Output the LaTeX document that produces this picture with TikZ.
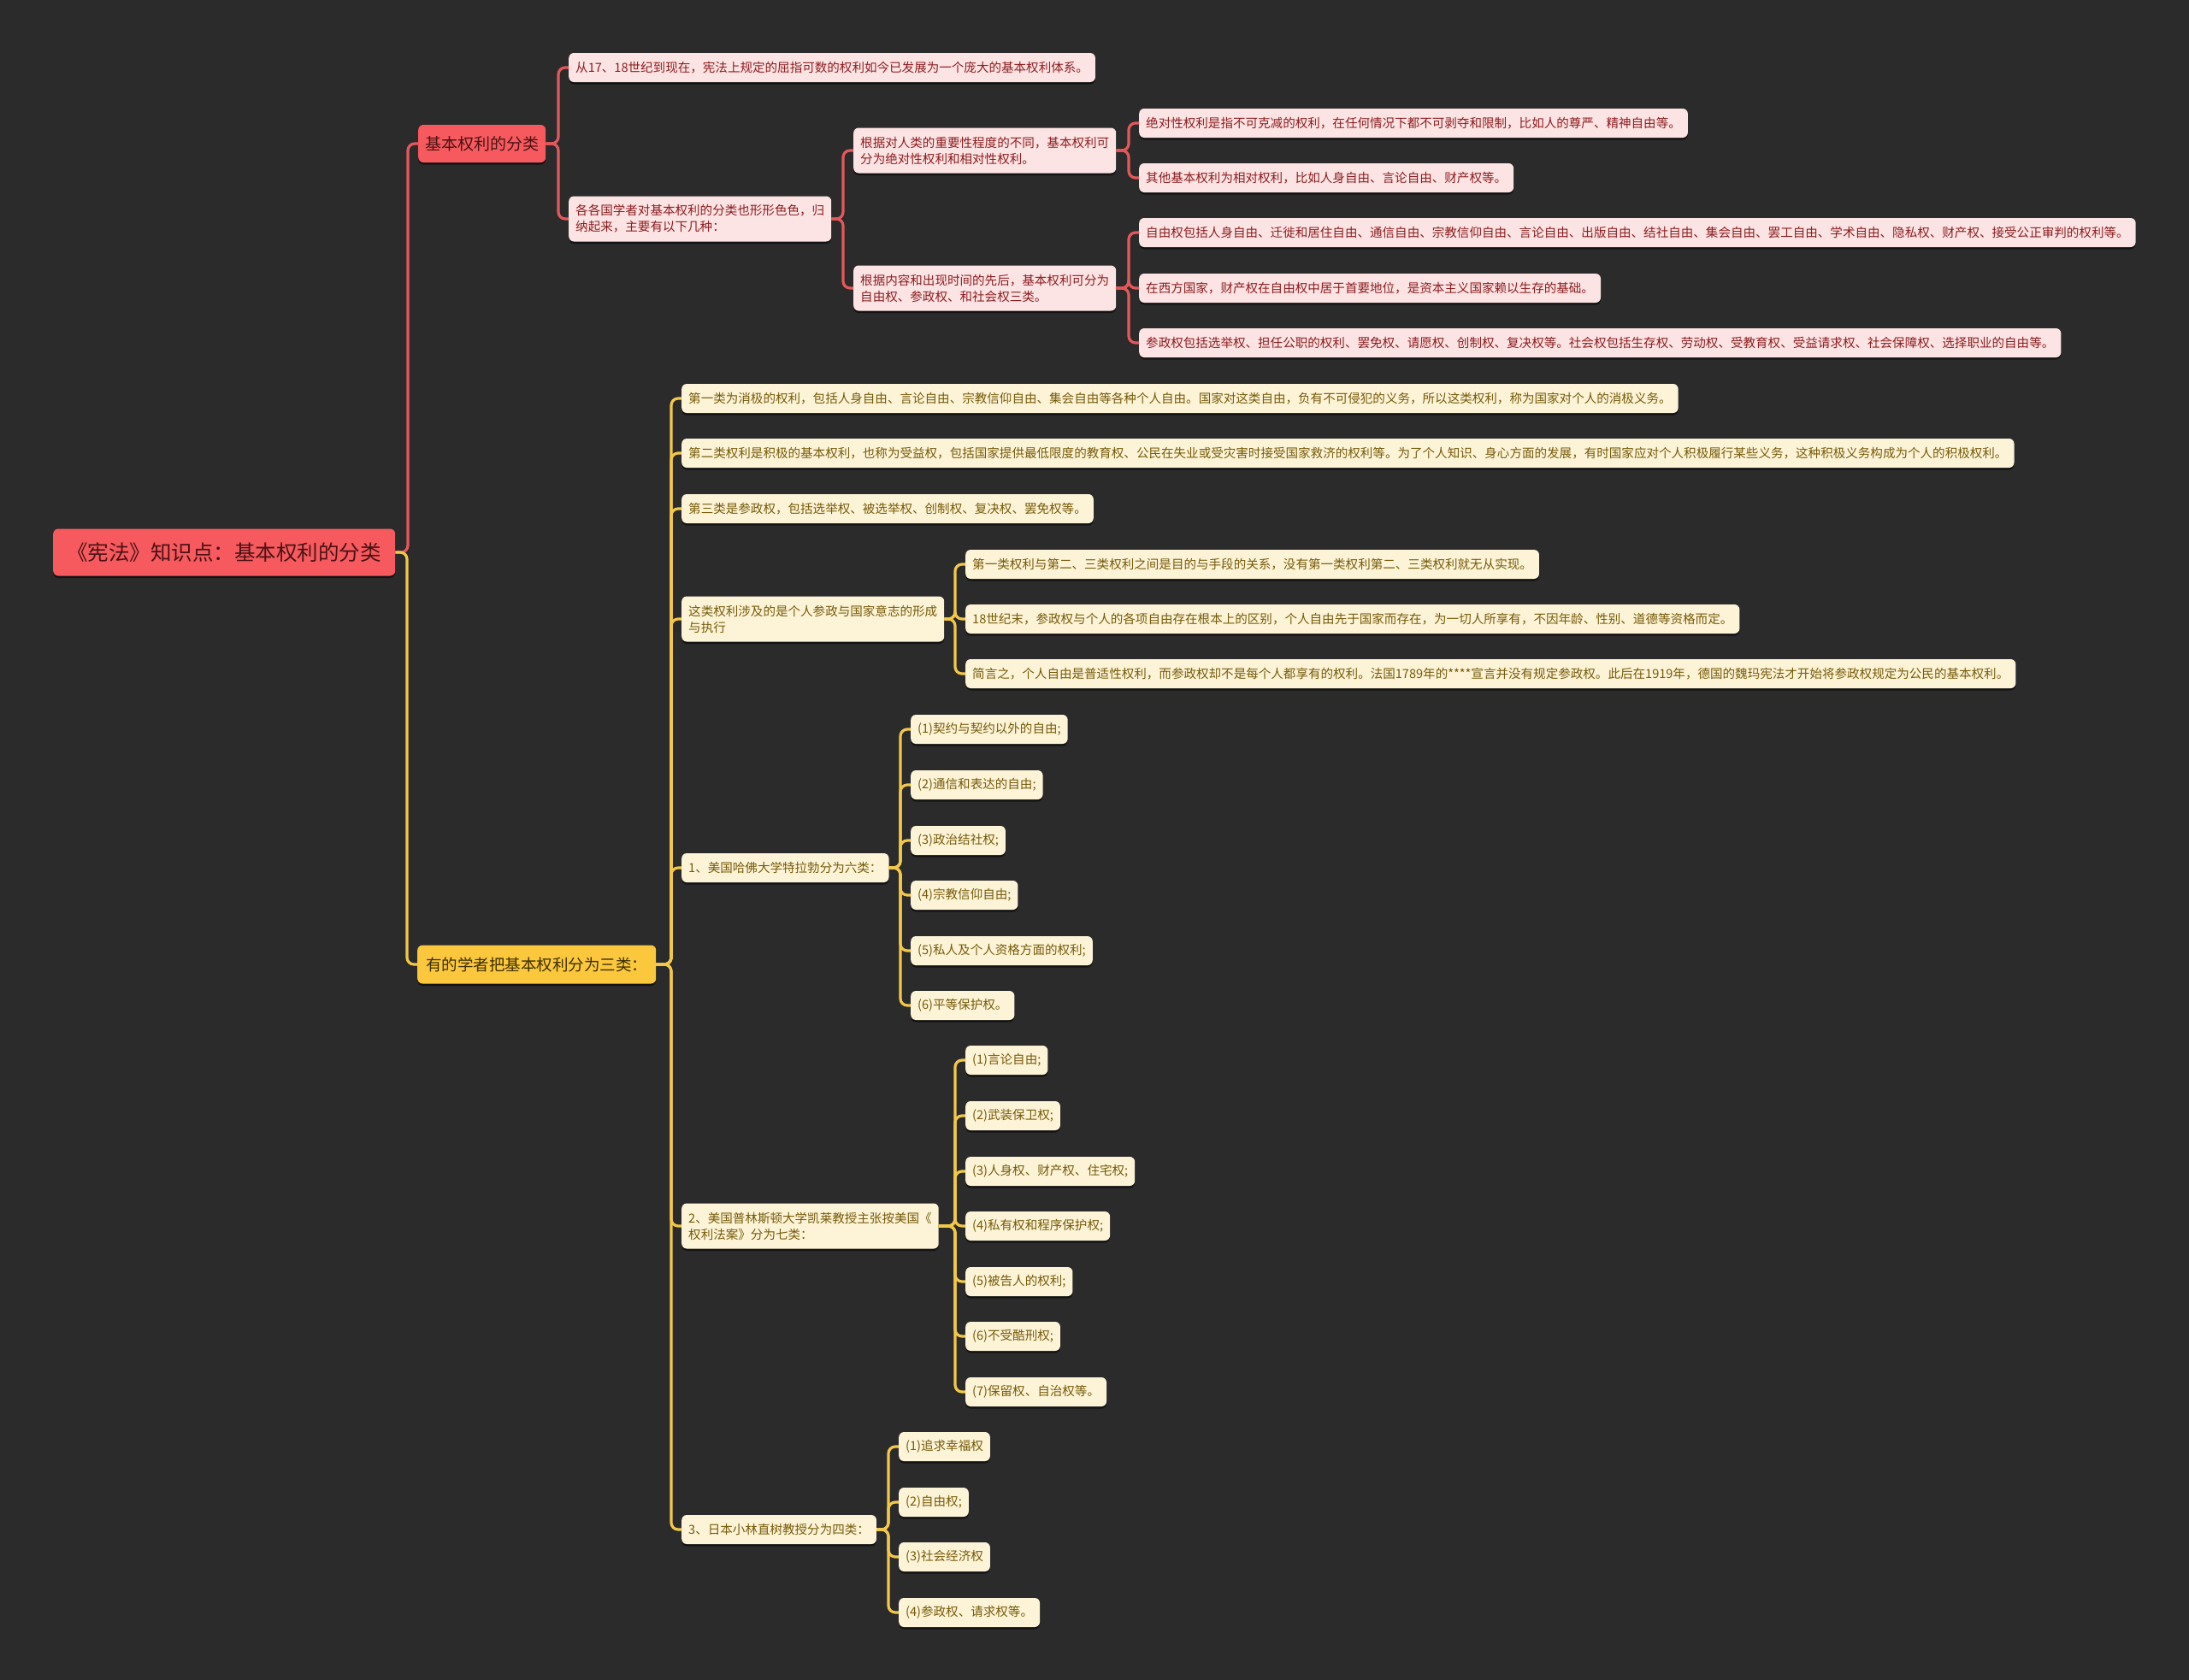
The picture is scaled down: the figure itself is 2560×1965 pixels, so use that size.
\documentclass[tikz,border=0pt]{standalone}
\usepackage{fontspec}
\setmainfont{Noto Sans CJK SC}
\usetikzlibrary{shadows}
\definecolor{bg}{HTML}{2B2B2B}
\definecolor{redfill}{HTML}{F65A5E}
\definecolor{redtext}{HTML}{4A1214}
\definecolor{pinkfill}{HTML}{FDE4E4}
\definecolor{pinktext}{HTML}{8C1C1E}
\definecolor{redline}{HTML}{E4585B}
\definecolor{yelfill}{HTML}{FBC83D}
\definecolor{yeltext}{HTML}{3D2E00}
\definecolor{creamfill}{HTML}{FDF4D8}
\definecolor{creamtext}{HTML}{765A08}
\definecolor{yelline}{HTML}{F2C84A}
\tikzset{
  box/.style={rounded corners=6pt, inner xsep=8pt, inner ysep=0pt, minimum height=34pt, anchor=west,
    font=\fontsize{14.55}{19}\selectfont,
    drop shadow={shadow xshift=0pt, shadow yshift=-2.5pt, fill=black, opacity=0.55}},
  pinkbox/.style={box, fill=pinkfill, text=pinktext},
  creambox/.style={box, fill=creamfill, text=creamtext},
  twoline/.style={align=left, minimum height=53pt},
  rline/.style={draw=redline, line width=3.2pt, rounded corners=8pt},
  yline/.style={draw=yelline, line width=3.2pt, rounded corners=8pt},
}
\newcommand\conn[3]{\draw[#1] (#2.east) -- ([xshift=-12pt]#3.west |- #2.east) |- (#3.west);}
\begin{document}
\begin{tikzpicture}[x=1pt,y=-1pt]
\useasboundingbox (0,0) rectangle (2560,1965);
\fill[bg] (0,0) rectangle (2560,1965);

% root
\node[box, fill=redfill, text=redtext, minimum width=400pt, minimum height=55pt, inner xsep=0pt,
  font=\fontsize{24.5}{28}\selectfont] (root) at (62,646) {《宪法》知识点：基本权利的分类};

% level 1
\node[box, fill=redfill, text=redtext, minimum height=44pt, font=\fontsize{19}{22}\selectfont] (A) at (489,168) {基本权利的分类};
\node[box, fill=yelfill, text=yeltext, minimum height=45pt, inner xsep=10pt, font=\fontsize{18.5}{22}\selectfont] (B) at (488,1128) {有的学者把基本权利分为三类：};

% A subtree
\node[pinkbox] (A1) at (665,79) {从17、18世纪到现在，宪法上规定的屈指可数的权利如今已发展为一个庞大的基本权利体系。};
\node[pinkbox, twoline] (A2) at (665,256) {各各国学者对基本权利的分类也形形色色，归\\纳起来，主要有以下几种：};
\node[pinkbox, twoline] (A21) at (998,176) {根据对人类的重要性程度的不同，基本权利可\\分为绝对性权利和相对性权利。};
\node[pinkbox, twoline] (A22) at (998,337) {根据内容和出现时间的先后，基本权利可分为\\自由权、参政权、和社会权三类。};
\node[pinkbox] (A211) at (1332,144) {绝对性权利是指不可克减的权利，在任何情况下都不可剥夺和限制，比如人的尊严、精神自由等。};
\node[pinkbox] (A212) at (1332,208) {其他基本权利为相对权利，比如人身自由、言论自由、财产权等。};
\node[pinkbox] (A221) at (1332,272) {自由权包括人身自由、迁徙和居住自由、通信自由、宗教信仰自由、言论自由、出版自由、结社自由、集会自由、罢工自由、学术自由、隐私权、财产权、接受公正审判的权利等。};
\node[pinkbox] (A222) at (1332,337) {在西方国家，财产权在自由权中居于首要地位，是资本主义国家赖以生存的基础。};
\node[pinkbox] (A223) at (1332,401) {参政权包括选举权、担任公职的权利、罢免权、请愿权、创制权、复决权等。社会权包括生存权、劳动权、受教育权、受益请求权、社会保障权、选择职业的自由等。};

% B subtree
\node[creambox] (B1) at (797,466) {第一类为消极的权利，包括人身自由、言论自由、宗教信仰自由、集会自由等各种个人自由。国家对这类自由，负有不可侵犯的义务，所以这类权利，称为国家对个人的消极义务。};
\node[creambox] (B2) at (797,530) {第二类权利是积极的基本权利，也称为受益权，包括国家提供最低限度的教育权、公民在失业或受灾害时接受国家救济的权利等。为了个人知识、身心方面的发展，有时国家应对个人积极履行某些义务，这种积极义务构成为个人的积极权利。};
\node[creambox] (B3) at (797,595) {第三类是参政权，包括选举权、被选举权、创制权、复决权、罢免权等。};
\node[creambox, twoline] (B4) at (797,724) {这类权利涉及的是个人参政与国家意志的形成\\与执行};
\node[creambox] (B41) at (1129,660) {第一类权利与第二、三类权利之间是目的与手段的关系，没有第一类权利第二、三类权利就无从实现。};
\node[creambox] (B42) at (1129,724) {18世纪末，参政权与个人的各项自由存在根本上的区别，个人自由先于国家而存在，为一切人所享有，不因年龄、性别、道德等资格而定。};
\node[creambox] (B43) at (1129,788) {简言之，个人自由是普适性权利，而参政权却不是每个人都享有的权利。法国1789年的****宣言并没有规定参政权。此后在1919年，德国的魏玛宪法才开始将参政权规定为公民的基本权利。};

\node[creambox] (B5) at (797,1015) {1、美国哈佛大学特拉勃分为六类：};
\node[creambox] (B51) at (1065,853) {(1)契约与契约以外的自由;};
\node[creambox] (B52) at (1065,918) {(2)通信和表达的自由;};
\node[creambox] (B53) at (1065,983) {(3)政治结社权;};
\node[creambox] (B54) at (1065,1047) {(4)宗教信仰自由;};
\node[creambox] (B55) at (1065,1112) {(5)私人及个人资格方面的权利;};
\node[creambox] (B56) at (1065,1176) {(6)平等保护权。};

\node[creambox, twoline] (B6) at (797,1434) {2、美国普林斯顿大学凯莱教授主张按美国《\\权利法案》分为七类：};
\node[creambox] (B61) at (1129,1240) {(1)言论自由;};
\node[creambox] (B62) at (1129,1305) {(2)武装保卫权;};
\node[creambox] (B63) at (1129,1370) {(3)人身权、财产权、住宅权;};
\node[creambox] (B64) at (1129,1434) {(4)私有权和程序保护权;};
\node[creambox] (B65) at (1129,1499) {(5)被告人的权利;};
\node[creambox] (B66) at (1129,1563) {(6)不受酷刑权;};
\node[creambox] (B67) at (1129,1628) {(7)保留权、自治权等。};

\node[creambox] (B7) at (797,1789) {3、日本小林直树教授分为四类：};
\node[creambox] (B71) at (1051,1692) {(1)追求幸福权};
\node[creambox] (B72) at (1051,1757) {(2)自由权;};
\node[creambox] (B73) at (1051,1821) {(3)社会经济权};
\node[creambox] (B74) at (1051,1886) {(4)参政权、请求权等。};

% connectors
\conn{rline}{root}{A}
\conn{yline}{root}{B}
\conn{rline}{A}{A1}
\conn{rline}{A}{A2}
\conn{rline}{A2}{A21}
\conn{rline}{A2}{A22}
\conn{rline}{A21}{A211}
\conn{rline}{A21}{A212}
\conn{rline}{A22}{A221}
\conn{rline}{A22}{A222}
\conn{rline}{A22}{A223}
\foreach \c in {B1,B2,B3,B4,B5,B6,B7} {\conn{yline}{B}{\c}}
\foreach \c in {B41,B42,B43} {\conn{yline}{B4}{\c}}
\foreach \c in {B51,B52,B53,B54,B55,B56} {\conn{yline}{B5}{\c}}
\foreach \c in {B61,B62,B63,B64,B65,B66,B67} {\conn{yline}{B6}{\c}}
\foreach \c in {B71,B72,B73,B74} {\conn{yline}{B7}{\c}}
\end{tikzpicture}
\end{document}
